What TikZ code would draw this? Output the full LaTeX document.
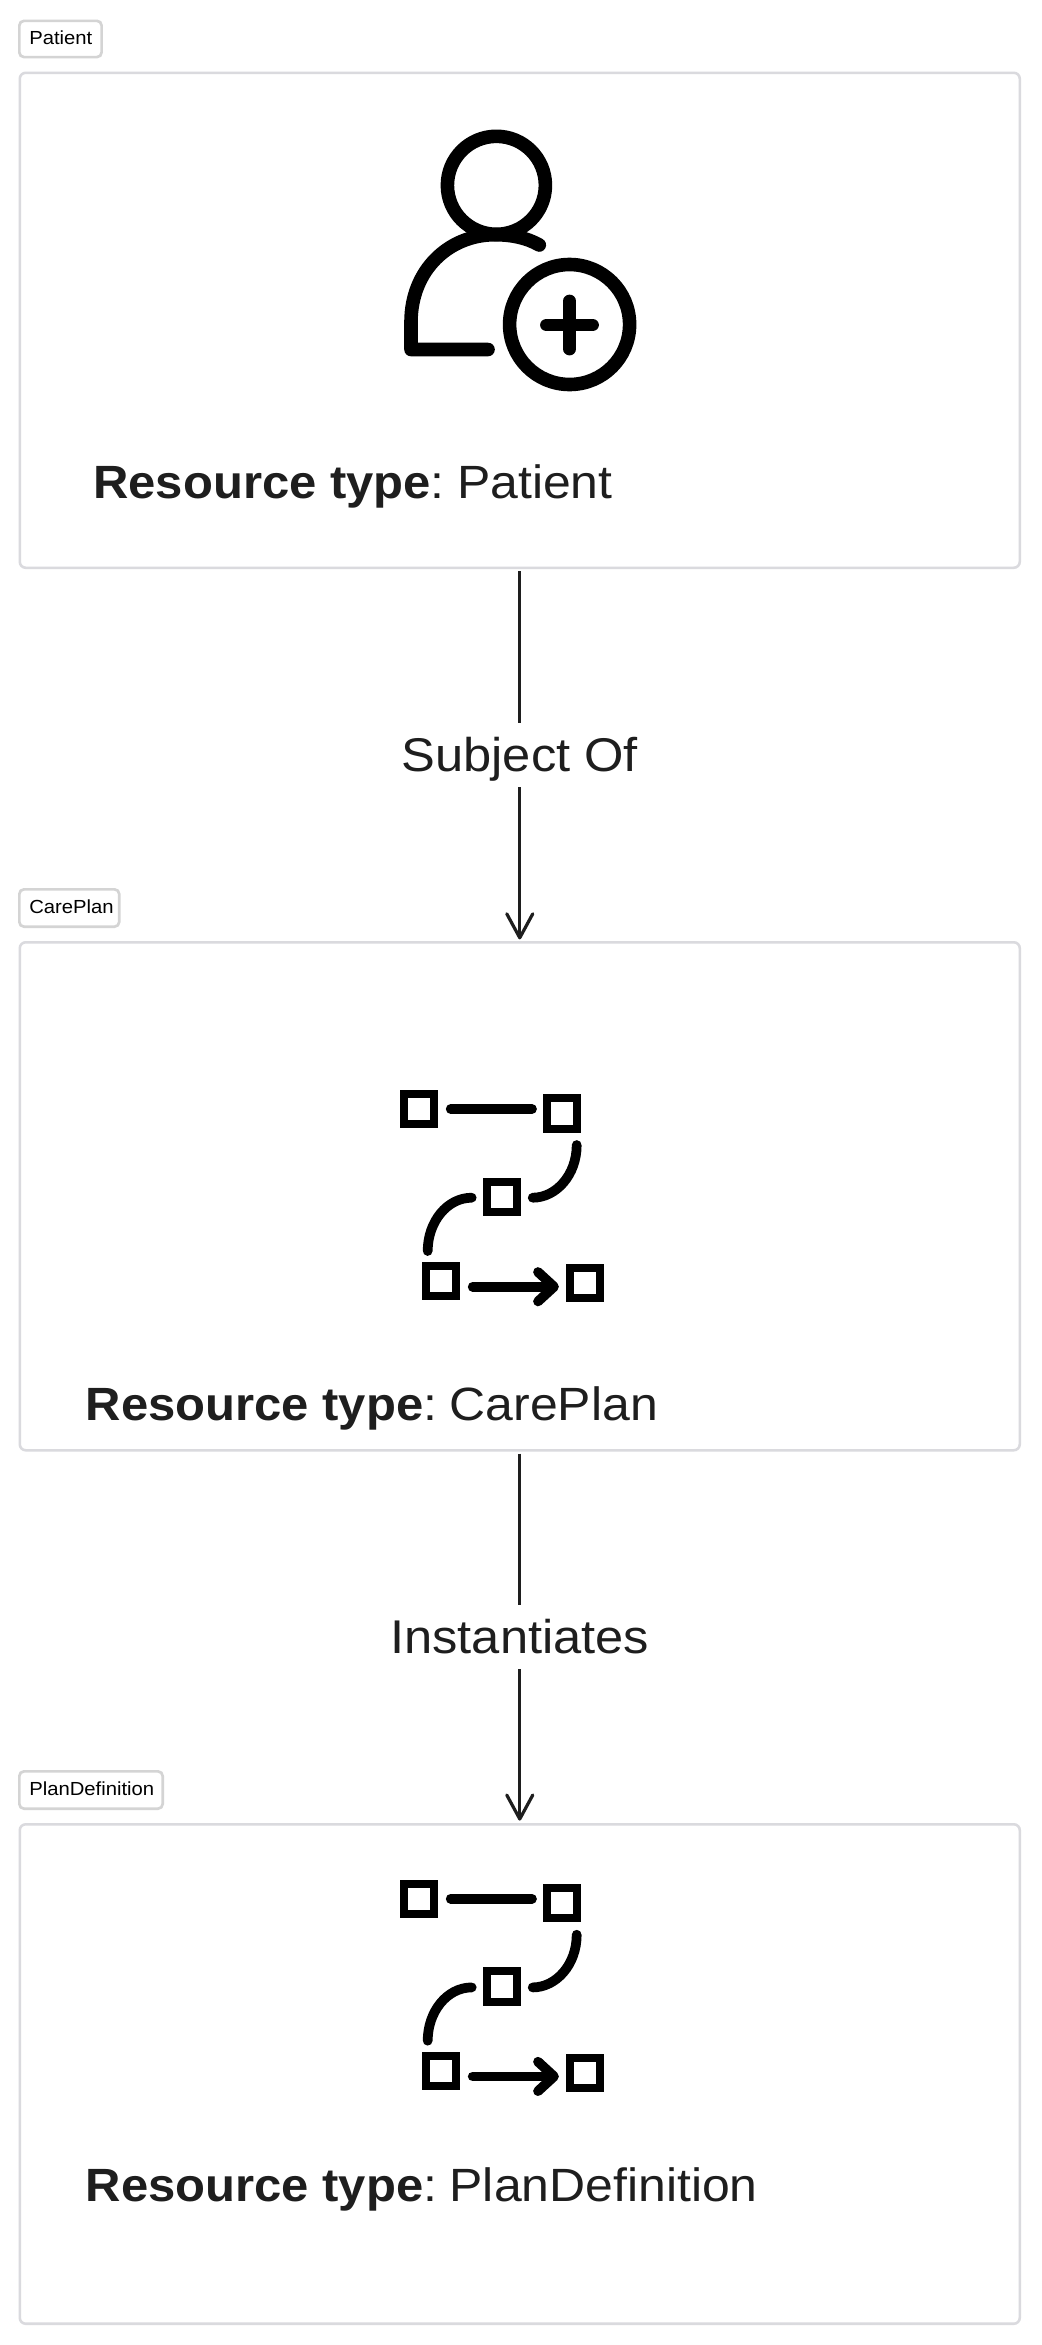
\documentclass[tikz,border=0pt]{standalone}
\usepackage{fontspec}
\setmainfont{Liberation Sans}[FakeStretch=1.07,BoldFeatures={FakeStretch=1.05}]
\usetikzlibrary{arrows.meta}
\definecolor{ink}{HTML}{1E1E1E}
\definecolor{edge}{HTML}{DADADE}
\definecolor{tagedge}{HTML}{D4D4D4}
\newcommand{\restype}[1]{\textbf{Resource type}:\hspace{-4.6pt} #1}
\newcommand{\flowicon}{%
  \draw[sq] (404,1094) rectangle (434.3,1124.3);
  \draw[sq] (546.7,1098.3) rectangle (577,1128.7);
  \draw[sq] (486.7,1181.7) rectangle (517,1212);
  \draw[sq] (425.7,1266) rectangle (456,1296);
  \draw[sq] (569.7,1268) rectangle (600,1298.3);
  \draw[lk] (450.7,1109) -- (532,1109);
  \draw[lk] (576.7,1145) .. controls (576.7,1175) and (556,1197.7) .. (532.7,1197.7);
  \draw[lk] (471.7,1197.7) .. controls (447,1197.7) and (427.7,1222) .. (427.7,1251);
  \draw[lk] (472.7,1286.7) -- (552,1286.7);
  \draw[lk] (538,1272) -- (554,1286.7) -- (538,1301.4);
}
\tikzset{
  panel/.style={draw=edge,line width=1.9pt,fill=white,rounded corners=4.5pt,inner sep=0pt,
    minimum width=750pt,anchor=north west},
  tagbox/.style={draw=tagedge,line width=2pt,fill=white,rounded corners=3.5pt,inner sep=0pt,anchor=north west},
  tagtext/.style={inner sep=0pt,anchor=base west,text=black,font=\fontsize{14.2pt}{17pt}\selectfont},
  restext/.style={inner sep=0pt,anchor=base west,text=ink,font=\fontsize{35pt}{42pt}\selectfont},
  linklabel/.style={fill=white,inner sep=0pt,text=ink,text height=36.5pt,text depth=11.5pt,font=\fontsize{35.5pt}{42pt}\selectfont},
  conn/.style={draw=ink,line width=2.4pt,
    -{Straight Barb[length=18pt,width=19.5pt,line width=2.4pt,round]}},
  ic/.style={draw=black,line width=10.2pt,line cap=round,line join=round},
  sq/.style={draw=black,line width=6pt,line cap=butt,line join=miter},
  lk/.style={draw=black,line width=7.3pt,line cap=round,line join=round},
}
\begin{document}
\begin{tikzpicture}[x=0.75pt,y=-0.75pt]
\useasboundingbox[fill=white] (0,0) rectangle (1042,2345);
% panels
\node[panel,minimum height=371.25pt] (p1) at (18.5,71.5) {};
\node[panel,minimum height=381pt] (p2) at (18.5,941) {};
\node[panel,minimum height=374.6pt] (p3) at (18.5,1823) {};
% tags
\node[tagbox,minimum width=61.7pt,minimum height=27.2pt] (t1) at (18,19.5) {};
\node[tagbox,minimum width=74.9pt,minimum height=28pt] (t2) at (18,888) {};
\node[tagbox,minimum width=107.5pt,minimum height=28pt] (t3) at (18,1770) {};
\node[tagtext] (tt1) at (29,44.5) {Patient};
\node[tagtext] (tt2) at (29,913) {CarePlan};
\node[tagtext] (tt3) at (29,1795.5) {PlanDefinition};
% resource text
\node[restext] (r1) at (93,498) {\restype{Patient}};
\node[restext] (r2) at (85.5,1420) {\restype{CarePlan}};
\node[restext] (r3) at (85.5,2201) {\restype{PlanDefinition}};
% connectors
\draw[conn,shorten <=1.5pt,shorten >=1.2pt] (p1.south) -- node[linklabel,pos=0.5] (l1) {Subject Of} (p2.north);
\draw[conn,shorten <=1.5pt,shorten >=1.8pt] (p2.south) -- node[linklabel,pos=0.5] (l2) {Instantiates} (p3.north);
% patient icon
\draw[ic] (496.4,185.3) circle[radius=49];
\draw[ic] (539.3,245) .. controls (527,238) and (512,234.7) .. (495,234.7)
  .. controls (449,234.7) and (411,270) .. (411,322) -- (411,349.5) -- (488,349.5);
\draw[ic] (569.6,324.5) circle[radius=60];
\draw[ic,line width=9.6pt] (546.5,325) -- (592.5,325);
\draw[ic,line width=9.6pt] (569.6,301) -- (569.6,349);
% flow icons
\flowicon
\begin{scope}[shift={(0,789.7)}]
\flowicon
\end{scope}
\end{tikzpicture}
\end{document}
